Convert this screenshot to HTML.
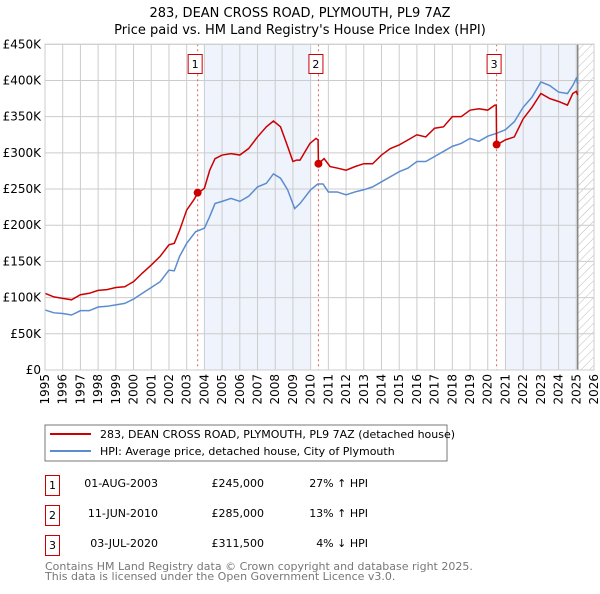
<!DOCTYPE html>
<html><head><meta charset="utf-8"><style>
body{margin:0;background:#fff;font-family:"DejaVu Sans","Liberation Sans",sans-serif;}
svg text{font-family:"DejaVu Sans","Liberation Sans",sans-serif;}
</style></head><body>
<svg id="c" width="600" height="590" xmlns="http://www.w3.org/2000/svg">
<text x="300" y="17" text-anchor="middle" font-size="13">283, DEAN CROSS ROAD, PLYMOUTH, PL9 7AZ</text>
<text x="300" y="34" text-anchor="middle" font-size="13">Price paid vs. HM Land Registry's House Price Index (HPI)</text>
<defs><pattern id="hatch" width="6" height="6" patternUnits="userSpaceOnUse" patternTransform="rotate(45)"><line x1="0" y1="0" x2="0" y2="6" stroke="#bbb" stroke-width="1"/></pattern></defs>
<g id="plot"></g>
<rect x="45" y="425" width="402" height="36" fill="#fff" stroke="#777"/>
<line x1="50" y1="434" x2="91" y2="434" stroke="#cc0000" stroke-width="2"/>
<text x="100" y="438" font-size="11">283, DEAN CROSS ROAD, PLYMOUTH, PL9 7AZ (detached house)</text>
<line x1="50" y1="451" x2="91" y2="451" stroke="#5b8ccf" stroke-width="2"/>
<text x="100" y="455" font-size="11">HPI: Average price, detached house, City of Plymouth</text>
<g font-size="11">
<rect x="45.5" y="475.5" width="14" height="20" fill="none" stroke="#cc0000"/><text x="52.5" y="489" text-anchor="middle">1</text>
<text x="158" y="487" text-anchor="end">01-AUG-2003</text><text x="264" y="487" text-anchor="end">£245,000</text><text x="368" y="487" text-anchor="end">27% ↑ HPI</text>
<rect x="45.5" y="505.5" width="14" height="20" fill="none" stroke="#cc0000"/><text x="52.5" y="519" text-anchor="middle">2</text>
<text x="158" y="517" text-anchor="end">11-JUN-2010</text><text x="264" y="517" text-anchor="end">£285,000</text><text x="368" y="517" text-anchor="end">13% ↑ HPI</text>
<rect x="45.5" y="535.5" width="14" height="20" fill="none" stroke="#cc0000"/><text x="52.5" y="549" text-anchor="middle">3</text>
<text x="158" y="547" text-anchor="end">03-JUL-2020</text><text x="264" y="547" text-anchor="end">£311,500</text><text x="368" y="547" text-anchor="end">4% ↓ HPI</text>
</g>
<text x="45" y="570" font-size="11" fill="#777">Contains HM Land Registry data © Crown copyright and database right 2025.</text>
<text x="45" y="580" font-size="11" fill="#777">This data is licensed under the Open Government Licence v3.0.</text>
</svg>
<script>
const yTicks=[0,50,100,150,200,250,300,350,400,450];
const yLabels=["£0","£50K","£100K","£150K","£200K","£250K","£300K","£350K","£400K","£450K"];
const xYears=[1995,1996,1997,1998,1999,2000,2001,2002,2003,2004,2005,2006,2007,2008,2009,2010,2011,2012,2013,2014,2015,2016,2017,2018,2019,2020,2021,2022,2023,2024,2025,2026];
const redT=[1995,1995.5,1996,1996.5,1997,1997.5,1998,1998.5,1999,1999.5,2000,2000.5,2001,2001.5,2002,2002.3,2002.6,2003,2003.4,2003.62,2004,2004.3,2004.6,2005,2005.5,2006,2006.5,2007,2007.5,2007.9,2008.3,2008.7,2009,2009.2,2009.4,2009.96,2010.3,2010.42,2010.44,2010.76,2011.1,2011.5,2012,2012.5,2013,2013.5,2014,2014.5,2015,2015.5,2016,2016.5,2017,2017.5,2018,2018.5,2019,2019.5,2020,2020.4,2020.48,2020.5,2021,2021.5,2022,2022.5,2023,2023.5,2024,2024.5,2024.8,2025,2025.08];
const redV=[106,101,99,97,104,106,110,111,114,115,122,134,145,157,173,175,193,221,235,244,251,276,292,297,299,297,306,322,336,344,336,309,288,290,290,313,320,318,285,292,281,279,276,281,285,285,297,306,311,318,325,322,334,336,350,350,359,361,359,366,366,311,318,322,347,363,382,375,371,366,382,385,380];
const blueT=[1995,1995.5,1996,1996.5,1997,1997.5,1998,1998.5,1999,1999.5,2000,2000.5,2001,2001.5,2002,2002.3,2002.6,2003,2003.5,2004,2004.3,2004.6,2005,2005.5,2006,2006.5,2007,2007.5,2007.9,2008.3,2008.7,2009.1,2009.4,2010,2010.4,2010.7,2011,2011.5,2012,2012.5,2013,2013.5,2014,2014.5,2015,2015.5,2016,2016.5,2017,2017.5,2018,2018.5,2019,2019.5,2020,2020.5,2021,2021.5,2022,2022.5,2023,2023.5,2024,2024.5,2024.8,2025,2025.08];
const blueV=[83,79,78,76,82,82,87,88,90,92,98,106,114,122,138,137,157,175,191,196,212,230,233,237,233,240,253,258,271,265,249,223,230,249,257,257,246,246,242,246,249,253,260,267,274,279,288,288,295,302,309,313,320,316,323,327,332,343,363,377,398,393,384,382,393,403,396];
const saleT=[2003.62,2010.44,2020.5];
const saleV=[245,285,311.5];
const saleLabels=["1","2","3"];
const X0=45,X1=594,Y0=370,Y1=44.3;
const xs=t=>X0+(t-1995)/31*(X1-X0);
const ys=v=>Y0-v/450*(Y0-Y1);
const NS="http://www.w3.org/2000/svg";
const g=document.getElementById('plot');
function mk(tag,at){const e=document.createElementNS(NS,tag);for(const k in at)e.setAttribute(k,at[k]);g.appendChild(e);return e;}
let e;
e=mk('rect',{x:xs(2004),y:Y1,width:xs(2010)-xs(2004),height:Y0-Y1,fill:'#eef3fc'});


e=mk('rect',{x:xs(2021),y:Y1,width:xs(2025.08)-xs(2021),height:Y0-Y1,fill:'#eef3fc'});


e=mk('rect',{x:xs(2025.08),y:Y1,width:X1-xs(2025.08),height:Y0-Y1,fill:'url(#hatch)'});


yTicks.forEach((v,i)=>{
 e=mk('line',{x1:X0,x2:X1,y1:ys(v),y2:ys(v),stroke:'#ccc'});
 
 
 e=mk('text',{x:X0-4,y:ys(v)+4,'text-anchor':'end','font-size':12});
 e.textContent=yLabels[i];
 
 
});
xYears.forEach(yr=>{
 e=mk('line',{x1:xs(yr),x2:xs(yr),y1:Y1,y2:Y0,stroke:'#ccc'});
 
 
 e=mk('text',{x:0,y:0,'font-size':12,transform:`translate(${xs(yr)+4},${Y0+4}) rotate(-90)`,'text-anchor':'end'});
 e.textContent=yr;
 
 
});
e=mk('line',{x1:xs(2025.08),x2:xs(2025.08),y1:Y1,y2:Y0,stroke:'#888',"stroke-width":1.5});


saleT.forEach((t,i)=>{
 e=mk('line',{x1:xs(t),x2:xs(t),y1:Y1,y2:Y0,stroke:'#e06060','stroke-dasharray':'2,3'});
 
 
 e=mk('rect',{x:xs(t)-9.5,y:54.5,width:14,height:19,fill:'#fff',stroke:'#cc0000'});
 
 
 e=mk('text',{x:xs(t)-2.5,y:68,'text-anchor':'middle','font-size':11});
 e.textContent=saleLabels[i];
 
 
});
e=mk('polyline',{points:blueT.map((t,i)=>xs(t)+','+ys(blueV[i])).join(' '),fill:'none',stroke:'#5b8ccf','stroke-width':1.5});


e=mk('polyline',{points:redT.map((t,i)=>xs(t)+','+ys(redV[i])).join(' '),fill:'none',stroke:'#cc0000','stroke-width':1.5});


saleT.forEach((t,i)=>{
 e=mk('circle',{cx:xs(t),cy:ys(saleV[i]),r:4,fill:'#cc0000'});
 
 
});
e=mk('rect',{x:X0,y:Y1,width:X1-X0,height:Y0-Y1,fill:'none',stroke:'#ccc'});


</script>
</body></html>
